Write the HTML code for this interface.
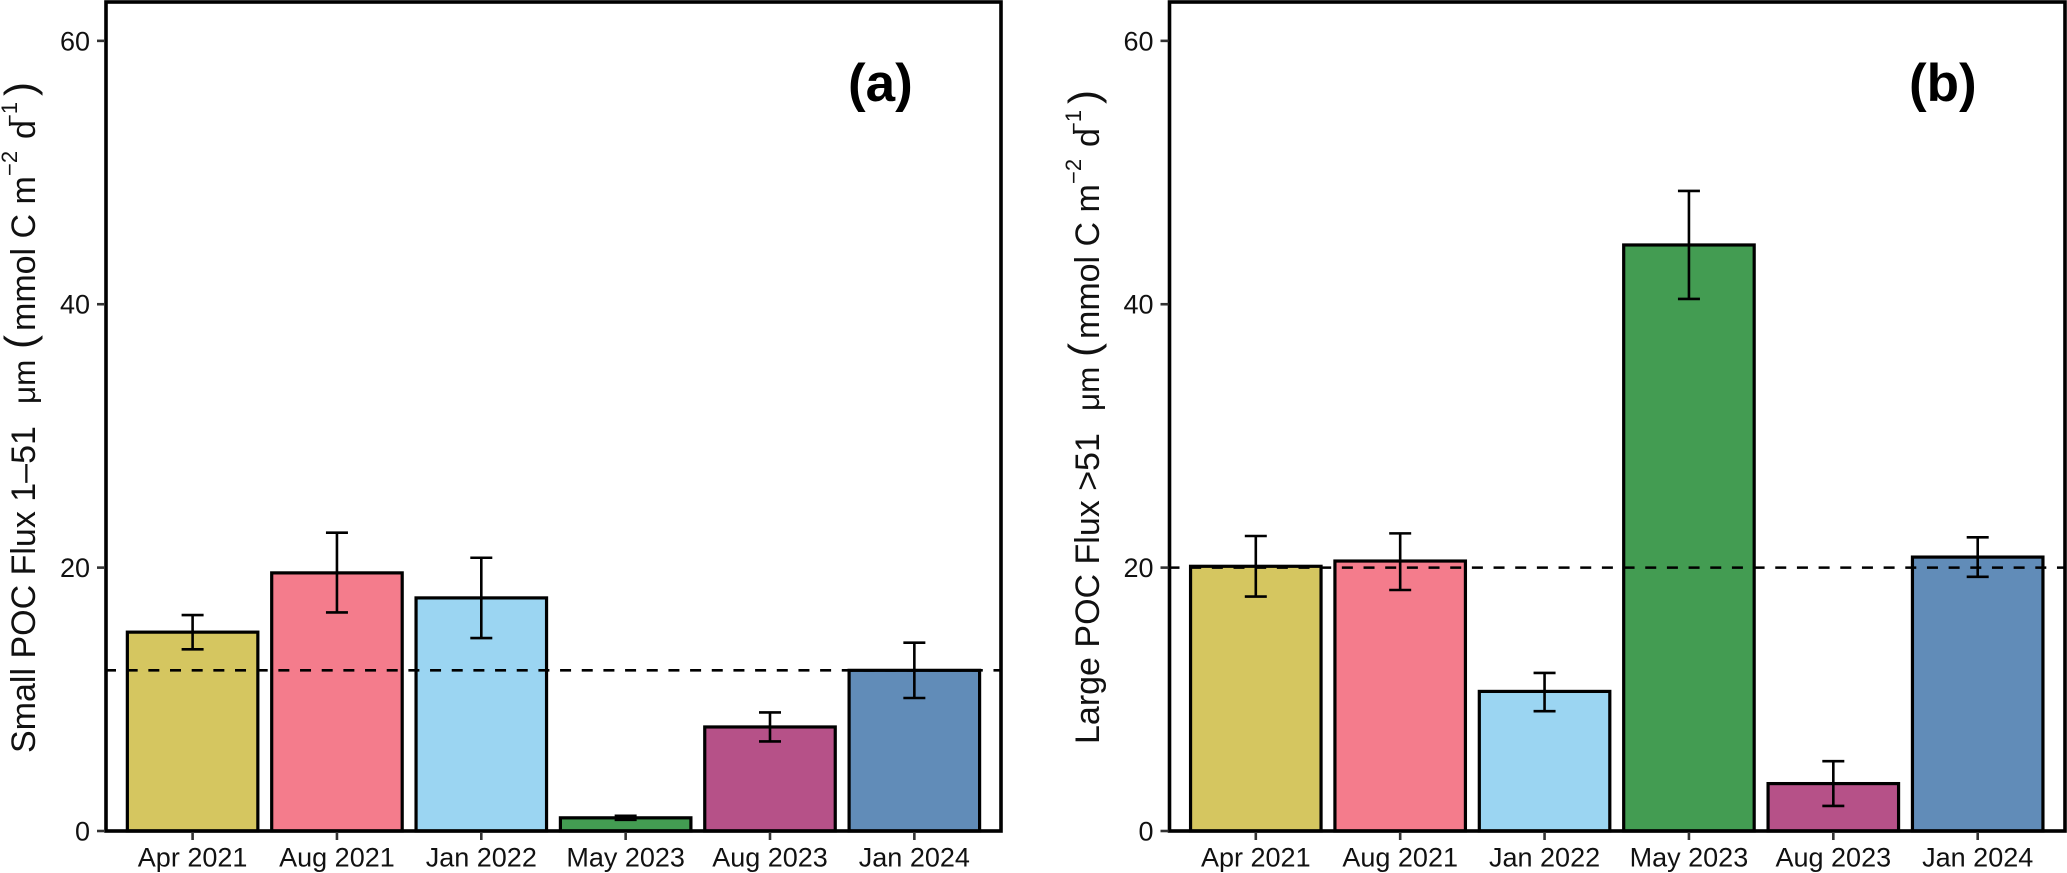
<!DOCTYPE html>
<html lang="en">
<head>
<meta charset="utf-8">
<title>POC Flux bar charts</title>
<style>
html,body{margin:0;padding:0;background:#fff;}
svg{display:block;font-family:"Liberation Sans",Arial,sans-serif;}
.tick-label{font-size:27px;fill:#111;}
.axis-title{font-size:34px;fill:#111;}
.sup{font-size:22px;fill:#111;}
.paren{font-size:42px;fill:#111;}
.panel-tag{font-size:53px;font-weight:bold;fill:#000;}
.bar{stroke:#000;stroke-width:3.2px;}
.bar-0{fill:#D5C660;}
.bar-1{fill:#F47C8C;}
.bar-2{fill:#9BD5F2;}
.bar-3{fill:#439C52;}
.bar-4{fill:#B65188;}
.bar-5{fill:#618CB8;}
.err{stroke:#000;stroke-width:2.6px;fill:none;}
.tick{stroke:#333;stroke-width:2.6px;}
.ref{stroke:#000;stroke-width:2.6px;stroke-dasharray:11 10.67;}
.frame{fill:none;stroke:#000;stroke-width:3.6px;}
</style>
</head>
<body>
<svg id="chart" width="2067" height="873" viewBox="0 0 2067 873" xmlns="http://www.w3.org/2000/svg">
  <rect x="0" y="0" width="2067" height="873" fill="#fff"/>
  <g id="panel-a"></g>
  <g id="panel-b"></g>

  <g>
    <text class="axis-title" transform="translate(35,753) rotate(-90)">Small POC Flux 1–51</text>
    <text class="axis-title" transform="translate(35,404) rotate(-90)" style="font-size:31.5px">μm</text>
    <text class="paren" transform="translate(34,349) rotate(-90)">(</text>
    <text class="axis-title" transform="translate(35,331) rotate(-90)">mmol C m</text>
    <text class="sup" transform="translate(17,176) rotate(-90)">−2</text>
    <text class="axis-title" transform="translate(35,139) rotate(-90)">d</text>
    <text class="sup" transform="translate(17,127) rotate(-90)">−1</text>
    <text class="paren" transform="translate(34,96) rotate(-90)">)</text>
  </g>
  <g>
    <text class="axis-title" transform="translate(1099,744) rotate(-90)">Large POC Flux &gt;51</text>
    <text class="axis-title" transform="translate(1099,411) rotate(-90)" style="font-size:31.5px">μm</text>
    <text class="paren" transform="translate(1098,357) rotate(-90)">(</text>
    <text class="axis-title" transform="translate(1099,339) rotate(-90)">mmol C m</text>
    <text class="sup" transform="translate(1081,184) rotate(-90)">−2</text>
    <text class="axis-title" transform="translate(1099,147) rotate(-90)">d</text>
    <text class="sup" transform="translate(1081,135) rotate(-90)">−1</text>
    <text class="paren" transform="translate(1098,104) rotate(-90)">)</text>
  </g>
  <text class="panel-tag" x="848" y="101">(a)</text>
  <text class="panel-tag" x="1909" y="101">(b)</text>
</svg>
<script>
const categories = ['Apr 2021', 'Aug 2021', 'Jan 2022', 'May 2023', 'Aug 2023', 'Jan 2024'];
const yTicks = [0, 20, 40, 60];

const smallFlux = [15.1, 19.6, 17.7, 1.0, 7.9, 12.2];
const smallLower = [13.8, 16.6, 14.65, 0.85, 6.8, 10.1];
const smallUpper = [16.4, 22.65, 20.75, 1.15, 9.0, 14.3];
const smallMean = 12.2;

const largeFlux = [20.1, 20.5, 10.6, 44.5, 3.6, 20.8];
const largeLower = [17.8, 18.3, 9.1, 40.4, 1.9, 19.3];
const largeUpper = [22.4, 22.6, 12.0, 48.6, 5.3, 22.3];
const largeMean = 20;

const yMax = 62.95;
const plotTop = 2;
const plotBottom = 831;
const NS = 'http://www.w3.org/2000/svg';

function yScale(v) {
  return plotBottom - (v / yMax) * (plotBottom - plotTop);
}

function shape(parent, tag, attrs) {
  const el = document.createElementNS(NS, tag);
  for (const k in attrs) el.setAttribute(k, attrs[k]);
  parent.appendChild(el);
  return el;
}

function drawPanel(groupId, left, right, firstCenter, step, barWidth, values, lower, upper, mean) {
  const g = document.getElementById(groupId);
  const xScale = function (i) { return firstCenter + i * step; };

  values.forEach(function (v, i) {
    const cx = xScale(i);
    const bar = shape(g, 'rect', {
      class: 'bar bar-' + i,
      x: cx - barWidth / 2,
      y: yScale(v),
      width: barWidth,
      height: plotBottom - yScale(v)
    });
    
    
  });

  const ref = shape(g, 'line', { class: 'ref', x1: left - 1, x2: right, y1: yScale(mean), y2: yScale(mean) });
  
  

  values.forEach(function (v, i) {
    const cx = xScale(i);
    const capHalf = 11;
    const err = shape(g, 'path', {
      class: 'err',
      d: 'M' + (cx - capHalf) + ' ' + yScale(upper[i]) + 'H' + (cx + capHalf) +
         'M' + cx + ' ' + yScale(upper[i]) + 'V' + yScale(lower[i]) +
         'M' + (cx - capHalf) + ' ' + yScale(lower[i]) + 'H' + (cx + capHalf)
    });
    
    
  });

  const frame = shape(g, 'rect', { class: 'frame', x: left, y: plotTop, width: right - left, height: plotBottom - plotTop });
  
  

  yTicks.forEach(function (t) {
    const y = yScale(t);
    const tick = shape(g, 'line', { class: 'tick', x1: left - 9, x2: left - 1, y1: y, y2: y });
    
    
    const label = shape(g, 'text', { class: 'tick-label', x: left - 16, y: y + 9.5, 'text-anchor': 'end' });
    label.textContent = String(t);
    
    
  });

  categories.forEach(function (c, i) {
    const cx = xScale(i);
    const tick = shape(g, 'line', { class: 'tick', x1: cx, x2: cx, y1: plotBottom + 1, y2: plotBottom + 9 });
    
    
    const label = shape(g, 'text', { class: 'tick-label', x: cx, y: 866.5, 'text-anchor': 'middle' });
    label.textContent = c;
    
    
  });
}

drawPanel('panel-a', 106, 1001, 192.6, 144.35, 130.5, smallFlux, smallLower, smallUpper, smallMean);
drawPanel('panel-b', 1169.5, 2065, 1255.8, 144.38, 130.5, largeFlux, largeLower, largeUpper, largeMean);
</script>
</body>
</html>
